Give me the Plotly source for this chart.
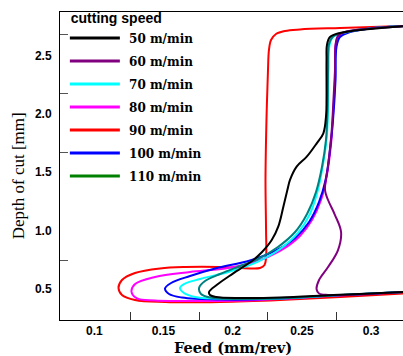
import plotly.graph_objects as go

# ---------------- data ----------------
speeds = ["50 m/min", "60 m/min", "70 m/min", "80 m/min", "90 m/min", "100 m/min", "110 m/min"]

feed_50 = [0.325, 0.2992, 0.2775, 0.2703, 0.2681, 0.2678, 0.2678, 0.2675, 0.2655, 0.2607, 0.2535, 0.2462,
           0.2414, 0.2395, 0.2366, 0.2329, 0.2282, 0.2212, 0.2149, 0.2004, 0.1884, 0.1829, 0.1836, 0.1879,
           0.2053, 0.2342, 0.2725, 0.2992, 0.325]
depth_50 = [2.757, 2.731, 2.697, 2.662, 2.594, 2.465, 2.121, 1.992, 1.835, 1.749, 1.634, 1.548,
            1.434, 1.348, 1.204, 1.033, 0.918, 0.815, 0.747, 0.632, 0.532, 0.472, 0.446, 0.429,
            0.420, 0.424, 0.446, 0.459, 0.473]

feed_60 = [0.325, 0.2992, 0.2811, 0.2761, 0.2743, 0.2739, 0.2728, 0.2714, 0.2689, 0.2667, 0.2689, 0.2739,
           0.2783, 0.2761, 0.2689, 0.2624, 0.2606, 0.2624, 0.2689, 0.2920, 0.325]
depth_60 = [2.757, 2.735, 2.705, 2.671, 2.594, 2.379, 2.121, 1.838, 1.554, 1.348, 1.262, 1.133,
            0.987, 0.832, 0.686, 0.575, 0.497, 0.459, 0.446, 0.450, 0.473]

feed_70 = [0.325, 0.2992, 0.2811, 0.2725, 0.2700, 0.2692, 0.2689, 0.2678, 0.2652, 0.2616, 0.2558, 0.2471,
           0.2342, 0.2176, 0.1980, 0.1764, 0.1648, 0.1619, 0.1648, 0.1728, 0.1980, 0.2342, 0.2725, 0.325]
depth_70 = [2.757, 2.735, 2.701, 2.662, 2.594, 2.379, 2.035, 1.778, 1.563, 1.348, 1.142, 0.979,
            0.841, 0.729, 0.648, 0.583, 0.540, 0.506, 0.463, 0.429, 0.412, 0.416, 0.442, 0.473]

feed_80 = [0.325, 0.2992, 0.2833, 0.2761, 0.2743, 0.2739, 0.2725, 0.2710, 0.2681, 0.2638, 0.2573, 0.2486,
           0.2342, 0.2162, 0.1945, 0.1692, 0.1439, 0.1295, 0.1269, 0.1309, 0.1439, 0.1764, 0.2198, 0.2704,
           0.325]
depth_80 = [2.757, 2.735, 2.705, 2.662, 2.585, 2.293, 1.992, 1.735, 1.477, 1.262, 1.090, 0.953,
            0.824, 0.729, 0.674, 0.643, 0.601, 0.540, 0.472, 0.416, 0.399, 0.394, 0.403, 0.437,
            0.473]

feed_90 = [0.325, 0.2775, 0.2486, 0.2378, 0.2313, 0.2277, 0.2262, 0.2255, 0.2244, 0.2237, 0.2241, 0.2241,
           0.2230, 0.2197, 0.2125, 0.1908, 0.1655, 0.1475, 0.1294, 0.1200, 0.1175, 0.1200, 0.1294, 0.1511,
           0.1908, 0.2342, 0.2775, 0.325]
depth_90 = [2.757, 2.740, 2.727, 2.714, 2.688, 2.637, 2.551, 2.379, 1.949, 1.434, 1.004, 0.764,
            0.704, 0.678, 0.674, 0.686, 0.686, 0.674, 0.635, 0.575, 0.506, 0.446, 0.403, 0.386,
            0.386, 0.403, 0.429, 0.460]

feed_100 = [0.325, 0.2992, 0.2848, 0.2775, 0.2750, 0.2743, 0.2725, 0.2703, 0.2671, 0.2624, 0.2552, 0.2451,
            0.2306, 0.2125, 0.1873, 0.1692, 0.1555, 0.1511, 0.1540, 0.1634, 0.1908, 0.2269, 0.2725, 0.325]
depth_100 = [2.757, 2.735, 2.705, 2.662, 2.577, 2.293, 1.949, 1.692, 1.434, 1.245, 1.073, 0.936,
             0.824, 0.742, 0.674, 0.609, 0.549, 0.502, 0.454, 0.424, 0.407, 0.411, 0.442, 0.473]

feed_110 = [0.325, 0.2992, 0.2811, 0.2725, 0.2696, 0.2689, 0.2685, 0.2674, 0.2645, 0.2602, 0.2537, 0.2451,
            0.2327, 0.2182, 0.2053, 0.1909, 0.1800, 0.1757, 0.1771, 0.1836, 0.2053, 0.2414, 0.2775, 0.325]
depth_110 = [2.757, 2.735, 2.705, 2.667, 2.602, 2.379, 2.035, 1.778, 1.546, 1.331, 1.142, 0.987,
             0.858, 0.755, 0.695, 0.626, 0.566, 0.506, 0.454, 0.424, 0.412, 0.420, 0.446, 0.473]

x_tick_labels = [0.1, 0.15, 0.2, 0.25, 0.3]
x_tick_text = ["0.1", "0.15", "0.2", "0.25", "0.3"]
x_tick_marks = [0.1258, 0.1757, 0.2253, 0.2751]
y_tick_labels = [0.5, 1.0, 1.5, 2.0, 2.5]
y_tick_text = ["0.5", "1.0", "1.5", "2.0", "2.5"]
y_tick_marks = [0.738, 1.672, 2.175, 2.686]

# ---------------- styling ----------------
curve_colors = {
    "50 m/min": "#000000", "60 m/min": "#800080", "70 m/min": "#00FFFF", "80 m/min": "#FF00FF",
    "90 m/min": "#FF0000", "100 m/min": "#0000FF", "110 m/min": "#008080",
}
legend_colors = {
    "50 m/min": "#000000", "60 m/min": "#800080", "70 m/min": "#00FFFF", "80 m/min": "#FF00FF",
    "90 m/min": "#FF0000", "100 m/min": "#0000FF", "110 m/min": "#008000",
}
series = {
    "50 m/min": (feed_50, depth_50), "60 m/min": (feed_60, depth_60), "70 m/min": (feed_70, depth_70),
    "80 m/min": (feed_80, depth_80), "90 m/min": (feed_90, depth_90), "100 m/min": (feed_100, depth_100),
    "110 m/min": (feed_110, depth_110),
}
draw_order = ["90 m/min", "80 m/min", "100 m/min", "70 m/min", "110 m/min", "60 m/min", "50 m/min"]

fig = go.Figure()
for name in draw_order:
    fx, fy = series[name]
    fig.add_trace(go.Scatter(x=fx, y=fy, mode="lines", name=name, showlegend=False,
                             line=dict(color=curve_colors[name], width=2, shape="spline", smoothing=1.0),
                             hoverinfo="skip"))
# legend entries
for name in speeds:
    fig.add_trace(go.Scatter(x=[None], y=[None], mode="lines", name="\u00a0" + name, legendgroup=name,
                             line=dict(color=legend_colors[name], width=3)))

tickfont = dict(family="Liberation Sans", size=12, color="black", weight="bold")

fig.update_layout(
    width=403, height=356,
    margin=dict(l=60, r=0, t=12, b=36),
    paper_bgcolor="white", plot_bgcolor="white",
    showlegend=True,
    legend=dict(
        x=0.0142, y=1.022, xanchor="left", yanchor="top",
        bgcolor="rgba(0,0,0,0)", borderwidth=0, maxheight=320,
        font=dict(family="DejaVu Serif", size=12, color="black", weight="bold"),
        title=dict(text="\u00a0cutting speed", font=dict(family="Liberation Sans", size=14, color="black", weight="bold")),
        itemwidth=50, tracegroupgap=4, traceorder="grouped",
    ),
    xaxis=dict(
        range=[0.07522, 0.32305], showgrid=False, zeroline=False,
        showline=True, linecolor="black", linewidth=1, mirror=True,
        tickmode="array", tickvals=x_tick_labels, ticktext=x_tick_text, ticks="",
        tickfont=tickfont, ticklabelstandoff=0,
        minor=dict(tickmode="array", tickvals=x_tick_marks, ticks="inside", ticklen=8, tickcolor="#333", tickwidth=1),
    ),
    yaxis=dict(
        range=[0.2311, 2.877], showgrid=False, zeroline=False,
        showline=True, linecolor="black", linewidth=1, mirror=False,
        tickmode="array", tickvals=y_tick_labels, ticktext=y_tick_text, ticks="",
        tickfont=tickfont, ticklabelstandoff=5,
        minor=dict(tickmode="array", tickvals=y_tick_marks, ticks="inside", ticklen=8, tickcolor="#555", tickwidth=1),
    ),
    annotations=[
        dict(text="Depth of cut [mm]", xref="paper", yref="paper", x=-0.1216, y=0.4675,
             xanchor="center", yanchor="middle", textangle=-90, showarrow=False,
             font=dict(family="Liberation Serif", size=17, color="black")),
        dict(text="Feed (mm/rev)", xref="paper", yref="paper", x=0.5035, y=-0.0877,
             xanchor="center", yanchor="middle", showarrow=False, borderpad=0, borderwidth=0,
             font=dict(family="DejaVu Serif", size=14.5, color="black", weight="bold")),
    ],
)

fig.write_html("out.html", config={"displayModeBar": False},
               post_script="document.body.style.margin='0';document.body.style.padding='0';")
